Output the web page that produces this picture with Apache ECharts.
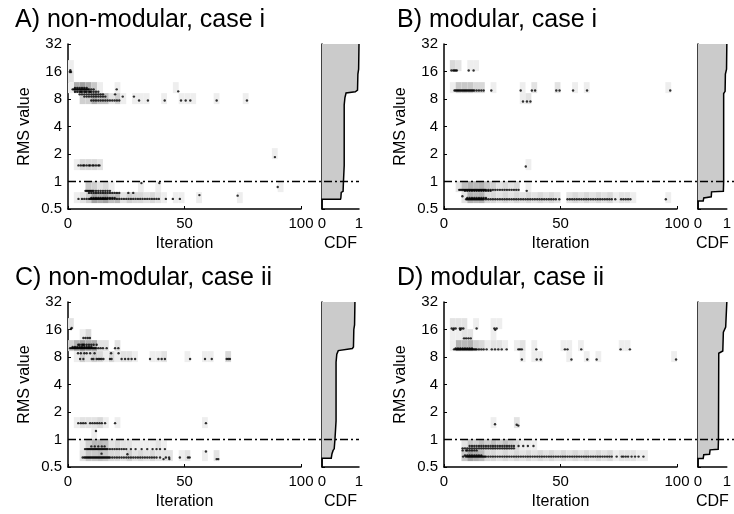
<!DOCTYPE html>
<html><head><meta charset="utf-8">
<script src="https://cdn.jsdelivr.net/npm/echarts@6/dist/echarts.min.js"></script>
<style>html,body{margin:0;padding:0;background:#fff}#c{width:734px;height:514px}</style>
</head><body><div id="c"></div>
<script>
const FONT = 'Liberation Sans, Arial, sans-serif';
const panelTitles = ['A) non-modular, case i', 'B) modular, case i', 'C) non-modular, case ii', 'D) modular, case ii'];
const xTicks = [0, 50, 100];
const yTicks = [0.5, 1, 2, 4, 8, 16, 32];
const threshold = 1;

// rows: [RMS value, [iterations]]
const rowsA = [
 [16.5, [1.0]],
 [15.8, [0.8, 1.3]],
 [10.6, [3, 4, 5, 6, 7, 8]],
 [10.2, [2, 2.5, 3, 3.5, 4, 4.5, 5, 5.5, 6, 6.5, 7, 7.5, 8, 8.5, 9, 10, 11, 20.9]],
 [9.7, [47.3]],
 [9.6, [3, 4, 5, 5.5, 6, 7, 7.5, 8, 9, 9.5, 10, 11, 12, 13]],
 [9.0, [5, 6, 7, 8, 9, 10, 11, 12, 13, 14, 15, 20.2]],
 [8.5, [7, 8, 9, 10, 11, 12, 13, 14, 15, 16, 23.5, 28.3]],
 [7.7, [10, 11, 12, 13, 14, 15, 16, 17, 18, 19, 20, 21, 22, 30.5, 34.3, 41.5, 48.5, 50.5, 52.5, 63.8, 76.8]],
 [1.85, [88.8]],
 [1.5, [4.5, 5.5, 6.5, 7, 8, 9, 9.5, 10.5, 11, 12, 13, 13.5]],
 [0.96, [31.5, 39.2]],
 [0.87, [90]],
 [0.79, [7.5, 8, 8.5, 9, 9.5, 10, 10.5, 11, 12, 13, 14, 15, 16, 17, 18]],
 [0.75, [9, 10, 11, 12, 13, 14, 15, 16, 17, 18, 19, 20, 21, 22, 25.9, 28]],
 [0.71, [56.4]],
 [0.70, [72.8]],
 [0.66, [10, 11, 12, 13, 14, 15, 16, 17, 18, 19, 20]],
 [0.645, [4.5, 6, 7, 8, 9, 9.5, 10, 10.5, 11, 11.5, 12, 12.5, 13, 13.5, 14, 14.5, 15, 15.5, 16, 16.5, 17, 18, 19, 20, 21, 22, 23, 24, 25, 26, 27, 28, 29, 30, 31, 32, 33, 34, 35, 36, 37, 38, 39, 42, 45, 48]]
];
const rowsB = [
 [16.4, [3.2, 4, 4.5, 5, 5.5, 10.6, 12.7]],
 [9.9, [4.5, 5, 5.5, 6, 6.5, 7, 7.5, 8, 8.5, 9, 9.5, 10, 10.5, 11, 11.5, 12, 12.5, 13, 14, 15, 16, 17, 20.3, 32.9, 37.7, 39.1, 48.2, 49.6, 55.4, 61.4, 97.1]],
 [7.5, [33.9, 35.6, 37.1]],
 [1.46, [35.1]],
 [0.81, [6.5, 7, 7.5, 8, 8.5, 9, 9.5, 10, 10.5, 11, 11.5, 12, 12.5, 13, 13.5, 14, 14.5, 15, 15.5, 16, 16.5, 17, 17.5, 18, 19, 20, 21, 22, 23, 24, 25, 26, 27, 28, 29, 30, 31, 32]],
 [0.79, [9, 10, 11, 12, 13, 14, 15, 16, 17, 18, 19, 20, 35.5]],
 [0.69, [7.9]],
 [0.66, [10, 11, 12, 13, 14, 15, 16, 17, 18]],
 [0.64, [9.5, 10, 10.5, 11, 11.5, 12, 12.5, 13, 13.5, 14, 14.5, 15, 15.5, 16, 16.5, 17, 18, 19, 20, 21, 22, 23, 24, 25, 26, 27, 28, 29, 30, 31, 32, 33, 34, 35, 36, 37, 38, 39, 40, 41, 42, 43, 44, 45, 46, 47, 48, 49.5, 53, 54, 55, 56, 57, 58, 59, 60, 61, 62, 63, 64, 65, 66, 67, 68, 69, 70, 71, 72, 73.5, 76, 77, 78, 79, 80, 95.2]]
];
const rowsC = [
 [16.6, [1.6]],
 [16.2, [1.3]],
 [12.9, [6.6, 7.5, 8.5, 9.4]],
 [10.9, [4.4, 5, 6, 6.5, 7, 8, 9, 10, 11, 12.3]],
 [10.3, [2, 3, 4, 5, 6, 7, 8, 9, 10]],
 [10.0, [0.9, 1.5, 2, 2.5, 3, 3.5, 4, 4.5, 5, 5.5, 6, 6.5, 7, 7.5, 8, 8.5, 9, 9.5, 10, 10.5, 11, 11.5, 12, 13, 14, 15, 16.6, 20.2, 21.6]],
 [8.8, [4.3, 5.5, 7, 8, 9.5, 11.4, 18.5, 21.7]],
 [7.6, [5.2, 6.6, 10.2, 10.9, 12.3, 13, 13.7, 14.4, 15.2, 18, 18.7, 23, 24.5, 25.9, 27.3, 28.8, 35.2, 38.8, 40.2, 41.6, 52.4, 58.8, 61.7, 68.1, 68.8, 69.5]],
 [1.51, [4.4, 5.5, 6.5, 7.5, 9.5, 10.5, 11.5, 12.5, 13.5, 14.5, 15.9, 20.2, 59.2]],
 [1.24, [12]],
 [0.84, [10, 11.5, 13, 14.5, 15.7]],
 [0.785, [7.3, 8, 8.5, 9, 9.5, 10, 10.5, 11, 11.5, 12, 12.5, 13, 13.5, 14, 14.5, 15, 15.5, 16, 16.5, 17, 18, 19, 20, 21, 22, 23, 24, 25, 27, 29, 31.6, 34, 36.3, 38, 39.5, 41.6]],
 [0.74, [59.2]],
 [0.70, [14.4]],
 [0.69, [25.5]],
 [0.635, [6.3, 7, 7.5, 8, 8.5, 9, 9.5, 10, 10.5, 11, 11.5, 12, 12.5, 13, 13.5, 14, 14.5, 15, 15.5, 16, 16.5, 17, 17.5, 18, 19, 20, 21, 22, 23, 24, 25, 26, 27, 28, 29, 30, 31, 32, 33, 34, 35, 36, 37, 38, 39.5, 42, 43.4, 48, 51.5, 52.2]],
 [0.61, [41, 43.5, 63.8, 64.5]]
];
const rowsD = [
 [16.4, [3.3, 4.2, 5, 6.8, 7.5, 8.3, 14, 21.6, 22.6]],
 [15.9, [4, 7, 22]],
 [12.8, [8.6, 9.5, 10.5, 11.5]],
 [9.9, [5, 6, 7, 8, 9, 10, 11, 12]],
 [9.7, [4.3, 5, 5.5, 6, 6.5, 7, 7.5, 8, 8.5, 9, 9.5, 10, 10.5, 11, 11.5, 12, 12.5, 13, 13.5, 14, 15, 16, 17, 18.3, 20.5, 21.9, 23.3, 24.8, 26.9, 31.9, 32.6, 33.4, 39.6, 51.9, 53, 58.9, 75.8, 79.8]],
 [7.5, [33.4, 39.8, 41.5, 54.7, 61.5, 65.5, 99.6]],
 [1.47, [21.9]],
 [1.45, [31.2]],
 [1.42, [31.9]],
 [0.85, [11, 12, 13, 14, 15, 16, 17, 18, 19, 20, 21, 22, 23, 24, 25, 26, 27, 28, 29, 30, 32, 34, 36, 38.4]],
 [0.80, [8, 9, 10, 11, 12, 13, 14, 15, 16, 17, 18, 19, 20, 21, 22, 23, 24, 25, 26, 27, 28, 29, 30]],
 [0.76, [8, 9.5, 10, 11, 12, 13, 14]],
 [0.67, [9, 10, 11, 12, 13, 14, 15, 16]],
 [0.65, [8.2, 9.4, 10, 10.5, 11, 11.5, 12, 12.5, 13, 13.5, 14, 14.5, 15, 15.5, 16, 16.5, 17, 17.5, 18, 19, 20, 21, 22, 23, 24, 25, 26, 27, 28, 29, 30, 31, 32, 33, 34, 35, 36, 37, 38, 39, 40, 41, 42, 43, 44, 45, 46, 47, 48, 49, 50, 51, 52, 53, 54, 55, 56, 57, 58, 59, 60, 61, 62, 63, 64, 65, 66, 67, 68, 69, 70, 71, 72, 74.1, 76.3, 77, 78, 79, 80.5, 82, 83.5, 85.6]]
];

// CDF curves: [probability, RMS value]
const cdfA = [[0, 0.5], [0, 0.64], [0.50, 0.64], [0.51, 0.66], [0.52, 0.76], [0.57, 0.78], [0.58, 1.0], [0.60, 1.5], [0.60, 6.9], [0.62, 8.3], [0.65, 9.3], [0.90, 9.6], [0.96, 10.0], [0.97, 15], [0.99, 17], [1.0, 32]];
const cdfB = [[0, 0.5], [0, 0.61], [0.18, 0.61], [0.20, 0.66], [0.46, 0.68], [0.47, 0.77], [0.88, 0.78], [0.89, 1.0], [0.89, 9.2], [0.94, 9.7], [0.95, 15], [0.99, 17], [1.0, 32]];
const cdfC = [[0, 0.5], [0, 0.625], [0.25, 0.625], [0.27, 0.70], [0.30, 0.76], [0.33, 0.79], [0.35, 1.0], [0.38, 1.6], [0.38, 7.0], [0.40, 8.6], [0.44, 9.4], [0.82, 9.9], [0.85, 10.3], [0.86, 16], [0.88, 18], [0.89, 32]];
const cdfD = [[0, 0.5], [0, 0.62], [0.18, 0.62], [0.20, 0.68], [0.40, 0.69], [0.42, 0.77], [0.70, 0.78], [0.71, 1.0], [0.72, 8.8], [0.86, 9.3], [0.88, 15], [0.96, 17], [1.0, 32]];

const panelRows = [rowsA, rowsB, rowsC, rowsD];
const panelCdf = [cdfA, cdfB, cdfC, cdfD];

// layout
const mainW = 233, cdfW = 37, gapW = 21, plotH = 165;
const panelLeft = [68, 444, 68, 444];
const panelTop = [44, 44, 302, 302];
const titleLeft = [10, 392, 10, 392];
const titleTop = [3, 3, 261, 261];

// density histogram bins
const binX = 2.5, yBinStart = -0.786, yBinStep = 0.4;

function flatten(rows) {
  const out = [];
  rows.forEach(r => r[1].forEach(x => out.push([x, r[0]])));
  return out;
}
function histogram(dots) {
  const m = new Map();
  dots.forEach(([x, y]) => {
    const i = Math.floor(x / binX);
    const j = Math.floor((Math.log2(y) - yBinStart) / yBinStep);
    const k = i + ',' + j;
    m.set(k, (m.get(k) || 0) + 1);
  });
  const cells = [];
  m.forEach((c, k) => {
    const [i, j] = k.split(',').map(Number);
    cells.push([i * binX, (i + 1) * binX, Math.pow(2, yBinStart + j * yBinStep), Math.pow(2, yBinStart + (j + 1) * yBinStep), c]);
  });
  return cells;
}
function shade(c) {
  const g = Math.round(238 - 125 * (1 - Math.exp(-(c - 1) / 11)));
  return 'rgb(' + g + ',' + g + ',' + g + ')';
}

const axisLineStyle = { color: '#000', width: 1.5 };
const labelStyle = { color: '#000', fontSize: 15, fontFamily: FONT };
const nameStyle = { color: '#000', fontSize: 16, fontFamily: FONT };
const logY = (extra) => Object.assign({
  type: 'log', logBase: 2, min: 0.5, max: 32, splitNumber: 6,
  splitLine: { show: false },
  axisLine: { show: true, lineStyle: axisLineStyle },
  axisTick: { show: true, inside: true, length: 3, lineStyle: { color: '#000' } }
}, extra);

const grid = [], xAxis = [], yAxis = [], series = [], title = [];
for (let p = 0; p < 4; p++) {
  const L = panelLeft[p], T = panelTop[p];
  const gMain = grid.length;
  grid.push({ left: L, top: T, width: mainW, height: plotH, containLabel: false });
  grid.push({ left: L + mainW + gapW, top: T, width: cdfW, height: plotH, containLabel: false });
  grid.push({ left: L, top: T, width: mainW + gapW + cdfW, height: plotH, containLabel: false });

  xAxis.push({ gridIndex: gMain, type: 'value', min: 0, max: 100, interval: 50,
    splitLine: { show: false }, axisLine: { onZero: false, lineStyle: axisLineStyle },
    axisTick: { inside: true, length: 3, lineStyle: { color: '#000' } },
    axisLabel: Object.assign({ margin: 7, showMaxLabel: true }, labelStyle),
    name: 'Iteration', nameLocation: 'middle', nameGap: 27, nameTextStyle: nameStyle });
  yAxis.push(logY({ gridIndex: gMain,
    axisLabel: Object.assign({ margin: 6, formatter: v => String(+(+v).toPrecision(3)) }, labelStyle),
    name: 'RMS value', nameLocation: 'middle', nameGap: 35, nameTextStyle: nameStyle }));

  xAxis.push({ gridIndex: gMain + 1, type: 'value', min: 0, max: 1, interval: 1,
    splitLine: { show: false }, axisLine: { onZero: false, lineStyle: axisLineStyle },
    axisTick: { show: false },
    axisLabel: Object.assign({ margin: 7 }, labelStyle),
    name: 'CDF', nameLocation: 'middle', nameGap: 27, nameTextStyle: nameStyle });
  yAxis.push(logY({ gridIndex: gMain + 1, axisLabel: { show: false } }));

  xAxis.push({ gridIndex: gMain + 2, type: 'value', min: 0, max: 1, show: false });
  yAxis.push({ gridIndex: gMain + 2, type: 'log', logBase: 2, min: 0.5, max: 32, show: false });

  const dots = flatten(panelRows[p]);
  series.push({
    type: 'custom', coordinateSystem: 'cartesian2d', xAxisIndex: gMain, yAxisIndex: gMain,
    clip: true, silent: true, z: 1, data: histogram(dots), encode: { x: [0, 1], y: [2, 3] },
    renderItem: (params, api) => {
      const a = api.coord([api.value(0), api.value(3)]);
      const b = api.coord([api.value(1), api.value(2)]);
      return { type: 'rect', shape: { x: a[0], y: a[1], width: b[0] - a[0], height: b[1] - a[1] },
        style: { fill: shade(api.value(4)) } };
    }
  });
  series.push({
    type: 'scatter', xAxisIndex: gMain, yAxisIndex: gMain, data: dots, symbol: 'circle',
    symbolSize: 2.4, itemStyle: { color: '#000' }, silent: true, z: 3, animation: false
  });
  const cdf = panelCdf[p];
  series.push({
    type: 'custom', coordinateSystem: 'cartesian2d', xAxisIndex: gMain + 1, yAxisIndex: gMain + 1,
    silent: true, z: 2, data: [[0, 1]], encode: { x: 0, y: 1 },
    renderItem: (params, api) => {
      const pts = cdf.map(q => api.coord(q));
      const last = cdf[cdf.length - 1];
      const poly = pts.concat([api.coord([0, last[1]])]);
      return { type: 'group', children: [
        { type: 'polygon', shape: { points: poly }, style: { fill: '#cbcbcb', stroke: null } },
        { type: 'polyline', shape: { points: pts }, style: { stroke: '#000', lineWidth: 1.5, fill: null } }
      ] };
    }
  });
  series.push({
    type: 'line', xAxisIndex: gMain + 2, yAxisIndex: gMain + 2,
    data: [[0, threshold], [1, threshold]], symbol: 'none', silent: true, z: 5,
    lineStyle: { color: '#000', width: 1.4, type: [8, 3, 2, 3] }
  });

  title.push({ text: panelTitles[p], left: titleLeft[p], top: titleTop[p],
    textStyle: { fontSize: 25, fontWeight: 'normal', color: '#000', fontFamily: FONT } });
}

const chart = echarts.init(document.getElementById('c'), null, { renderer: 'canvas' });
chart.setOption({ animation: false, backgroundColor: '#fff', title, grid, xAxis, yAxis, series });
</script></body></html>
